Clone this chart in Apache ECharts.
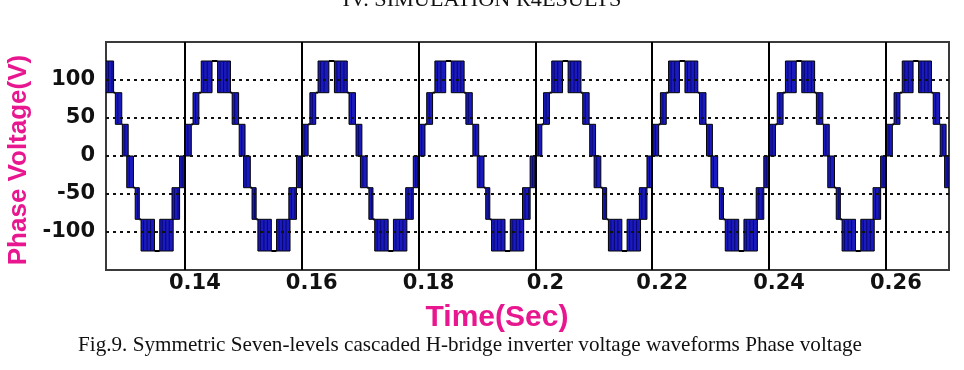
<!DOCTYPE html>
<html>
<head>
<meta charset="utf-8">
<script src="https://cdn.jsdelivr.net/npm/echarts@6/dist/echarts.min.js"></script>
<style>
  html, body { margin: 0; padding: 0; background: #ffffff; }
  #chart { width: 964px; height: 370px; }
</style>
</head>
<body>
<div id="chart"></div>
<script>
// ---- data ----
const xTicks = [0.14, 0.16, 0.18, 0.2, 0.22, 0.24, 0.26];
const yTicks = [-100, -50, 0, 50, 100];
// rising zero crossings (start of each 50 Hz period), seconds
const periodStarts = [0.12, 0.14, 0.16, 0.18, 0.2, 0.22, 0.24, 0.26];
// one period of PWM switching bands, ms from the period start
const bandStartMs = [0.1, 1.4, 2.8, 5.6, 8.1, 9.3, 10.05, 11.5, 12.5, 15.7, 17.8, 19.1];
const bandEndMs   = [1.1, 2.4, 4.65, 7.8, 9.2, 10.3, 11.2, 12.2, 14.8, 18.0, 19.1, 19.9];
// voltage level switched from / to in each band (V)
const bandFrom = [0, 41.7, 83.3, 125, 83.3, 41.7, 0, -41.7, -83.3, -125, -83.3, -41.7];
const bandTo   = [41.7, 83.3, 125, 83.3, 41.7, 0, -41.7, -83.3, -125, -83.3, -41.7, 0];

const titleText = 'IV. SIMULATION R4ESULTS';
const captionText = 'Fig.9. Symmetric Seven-levels cascaded H-bridge inverter voltage waveforms Phase voltage';
const yName = 'Phase Voltage(V)';
const xName = 'Time(Sec)';

// ---- build the band table ----
const waveData = [];
periodStarts.forEach((ps, k) => {
  const n = bandStartMs.length;
  for (let i = 0; i < n; i++) {
    let next;
    if (i < n - 1) next = ps + bandStartMs[i + 1] / 1000;
    else if (k < periodStarts.length - 1) next = periodStarts[k + 1] + bandStartMs[0] / 1000;
    else next = ps + bandEndMs[i] / 1000;
    waveData.push([ps + bandStartMs[i] / 1000, ps + bandEndMs[i] / 1000, bandFrom[i], bandTo[i], next]);
  }
});

const MAGENTA = '#e8168f';

function measure(text, font) {
  const c = document.createElement('canvas').getContext('2d');
  c.font = font;
  return c.measureText(text).width;
}

const chart = echarts.init(document.getElementById('chart'), null, { renderer: 'canvas' });

const capFont = '21px "Liberation Serif"';
const capScale = 784 / measure(captionText, capFont);
const titleFont = '21px "Liberation Serif"';
const titleScale = 279 / measure(titleText, titleFont);

function renderBand(params, api) {
  const t0 = api.value(0), t1 = api.value(1), a = api.value(2), b = api.value(3), tn = api.value(4);
  const lo = Math.min(a, b), hi = Math.max(a, b);
  const cs = params.coordSys;
  const p0 = api.coord([t0, hi]), p1 = api.coord([t1, lo]);
  const children = [];
  const r = echarts.graphic.clipRectByRect(
    { x: p0[0], y: p0[1], width: p1[0] - p0[0], height: p1[1] - p0[1] },
    { x: cs.x, y: cs.y, width: cs.width, height: cs.height }
  );
  if (r && r.width > 0 && r.height > 0) {
    children.push({ type: 'rect', shape: r, style: { fill: '#1a1abe', stroke: '#000', lineWidth: 1 } });
    for (let x = r.x + 2.5; x < r.x + r.width - 1.5; x += 3.5) {
      children.push({ type: 'line', shape: { x1: x, y1: r.y + 1, x2: x, y2: r.y + r.height - 1 },
        style: { stroke: '#07076e', lineWidth: 1 } });
    }
  }
  if (tn > t1) {
    const f0 = api.coord([t1, b]), f1 = api.coord([tn, b]);
    const x1 = Math.max(f0[0], cs.x), x2 = Math.min(f1[0], cs.x + cs.width);
    if (x2 > x1) {
      children.push({ type: 'line', shape: { x1: x1, y1: f0[1], x2: x2, y2: f0[1] },
        style: { stroke: '#000', lineWidth: 2 } });
    }
  }
  return { type: 'group', children: children };
}

chart.setOption({
  backgroundColor: '#ffffff',
  animation: false,
  grid: { left: 106, right: 15, top: 42, bottom: 100, show: true, borderColor: '#3a3a3a', borderWidth: 2, backgroundColor: 'transparent' },
  xAxis: {
    type: 'value', min: 0.1265, max: 0.2708,
    axisLine: { show: false }, axisTick: { show: false }, splitLine: { show: false },
    axisLabel: {
      customValues: xTicks,
      formatter: v => String(+(+v).toFixed(2)),
      fontFamily: 'DejaVu Sans', fontWeight: 'bold', fontSize: 21, color: '#111',
      margin: 3, padding: [0, 0, 0, 20]
    }
  },
  yAxis: {
    type: 'value', min: -150, max: 150, interval: 50,
    axisLine: { show: false }, axisTick: { show: false }, splitLine: { show: false },
    axisLabel: {
      customValues: yTicks,
      fontFamily: 'DejaVu Sans', fontWeight: 'bold', fontSize: 21, color: '#111',
      margin: 11
    }
  },
  graphic: [
    { type: 'text', x: 482, y: 11, scaleX: titleScale, z: 10,
      style: { text: titleText, font: titleFont, fill: '#111', align: 'center', verticalAlign: 'bottom' } },
    { type: 'text', x: 19, y: 160, rotation: Math.PI / 2,
      style: { text: yName, font: 'bold 26px "Liberation Sans"', fill: MAGENTA, align: 'center', verticalAlign: 'middle' } },
    { type: 'text', x: 497, y: 318,
      style: { text: xName, font: 'bold 30px "Liberation Sans"', fill: MAGENTA, align: 'center', verticalAlign: 'middle' } },
    { type: 'text', x: 78, y: 345, scaleX: capScale,
      style: { text: captionText, font: capFont, fill: '#111', align: 'left', verticalAlign: 'middle' } }
  ],
  series: [
    {
      type: 'line', data: [], silent: true, z: 1,
      markLine: {
        silent: true, symbol: 'none', label: { show: false },
        lineStyle: { color: '#111', width: 2, type: [3, 4] },
        data: yTicks.map(v => ({ yAxis: v }))
      }
    },
    {
      type: 'line', data: [], silent: true, z: 3,
      markLine: {
        silent: true, symbol: 'none', label: { show: false },
        lineStyle: { color: '#000', width: 2, type: 'solid' },
        data: xTicks.map(v => ({ xAxis: v }))
      }
    },
    {
      type: 'custom', z: 2, clip: true,
      renderItem: renderBand,
      encode: { x: [0, 1, 4], y: [2, 3] },
      data: waveData
    }
  ]
});
</script>
</body>
</html>
